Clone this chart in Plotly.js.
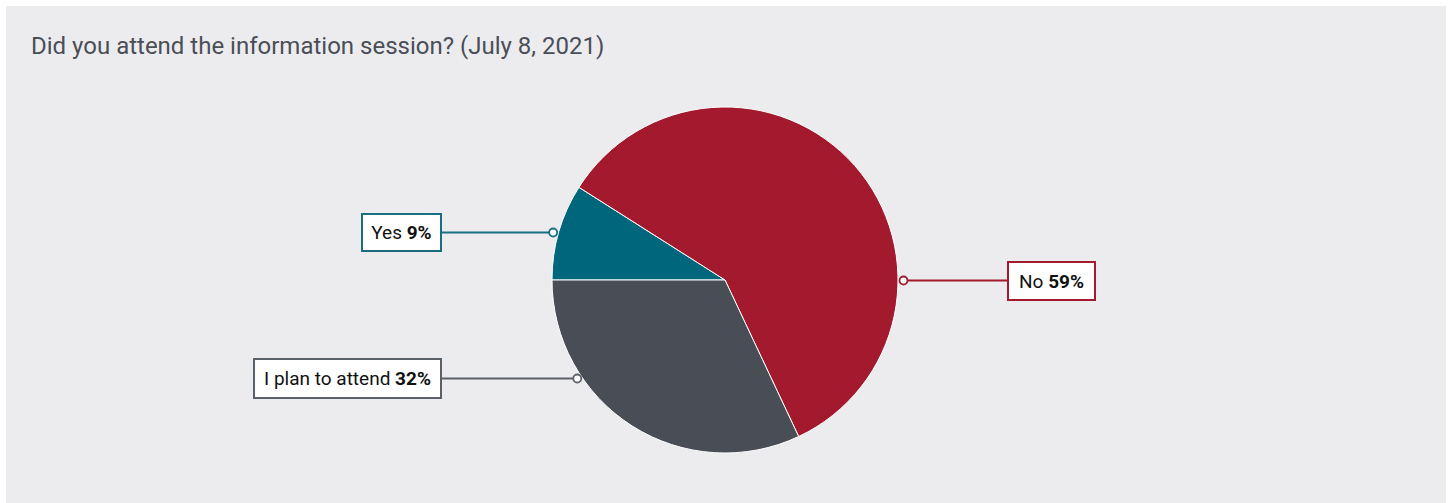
<!DOCTYPE html>
<html>
<head>
<meta charset="utf-8">
<script src="https://cdn.plot.ly/plotly-3.0.1.min.js"></script>
<style>html,body{margin:0;padding:0;background:#fff;}#chart{width:1452px;height:503px;}</style>
</head>
<body>
<div id="chart"></div>
<script>
// ---- data ----
const categories = ["Yes", "No", "I plan to attend"];
const values = [9, 59, 32];
const sliceColors = ["#00667B", "#A3192E", "#494D56"];
const lineColors = ["#1A6E82", "#A3192E", "#5C6068"];
const titleText = "Did you attend the information session? (July 8, 2021)";

// ---- layout constants (pixels) ----
const W = 1452, H = 503;
const cx = 725, cy = 280, R = 173;
const FONT = "Roboto, 'DejaVu Sans Condensed', sans-serif";
// label boxes: center x, center y, width, height, side
const boxes = [
  {cx: 401.5, cy: 232.5, w: 81, h: 39, side: -1},
  {cx: 1051.5, cy: 280.5, w: 89, h: 40, side: 1},
  {cx: 347.5, cy: 378.5, w: 189, h: 41, side: -1}
];

const px = x => x / W;
const py = y => 1 - y / H;

const shapes = [{
  type: 'rect', xref: 'paper', yref: 'paper', layer: 'below',
  x0: px(6), x1: px(1446), y0: 0, y1: py(6),
  fillcolor: '#ECECEF', line: {width: 0}
}];
const annotations = [];

categories.forEach((c, i) => {
  const b = boxes[i];
  const dy = b.cy - cy;
  const edgeX = cx + b.side * Math.sqrt(R * R - dy * dy);
  const mx = edgeX + b.side * 5.5;
  const boxEdge = b.cx - b.side * b.w / 2;
  const mr = 4;
  // connector
  shapes.push({
    type: 'line', xref: 'paper', yref: 'paper',
    x0: px(boxEdge), x1: px(mx - b.side * mr), y0: py(b.cy), y1: py(b.cy),
    line: {color: lineColors[i], width: 2}
  });
  // marker circle
  shapes.push({
    type: 'circle', xref: 'paper', yref: 'paper',
    x0: px(mx - mr), x1: px(mx + mr), y0: py(b.cy - mr), y1: py(b.cy + mr),
    fillcolor: '#ffffff', line: {color: lineColors[i], width: 1.8}
  });
  annotations.push({
    xref: 'paper', yref: 'paper', x: px(b.cx), y: py(b.cy),
    xanchor: 'center', yanchor: 'middle', showarrow: false,
    text: c + ' <b>' + values[i] + '%</b>',
    font: {family: FONT, size: 19, color: '#111111'},
    bgcolor: '#ffffff', bordercolor: lineColors[i], borderwidth: 2, borderpad: 0,
    width: b.w - 4, height: b.h - 4, align: 'center', valign: 'middle'
  });
});

const trace = {
  type: 'pie',
  labels: categories,
  values: values,
  sort: false,
  direction: 'clockwise',
  rotation: -90,
  marker: {colors: sliceColors, line: {color: '#ffffff', width: 1}},
  textinfo: 'none',
  hoverinfo: 'label+percent',
  domain: {x: [px(cx - R), px(cx + R)], y: [py(cy + R), py(cy - R)]},
  showlegend: false
};

const layout = {
  width: W, height: H,
  margin: {l: 0, r: 0, t: 0, b: 0},
  paper_bgcolor: '#ffffff',
  showlegend: false,
  title: {
    text: titleText,
    x: px(31), xanchor: 'left', xref: 'paper',
    y: py(46), yanchor: 'middle', yref: 'container',
    font: {family: FONT, size: 24, color: '#4A4E57'}
  },
  shapes: shapes,
  annotations: annotations
};

Plotly.newPlot('chart', [trace], layout, {displayModeBar: false, staticPlot: true});
</script>
</body>
</html>
